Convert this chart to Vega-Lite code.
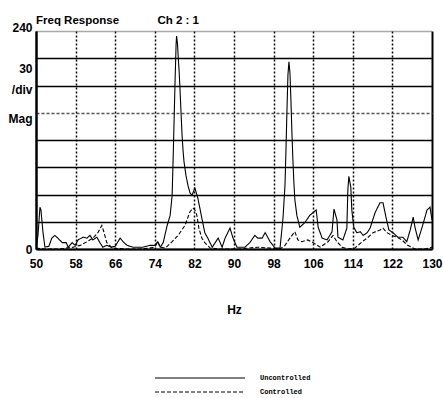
{
  "$schema": "https://vega.github.io/schema/vega-lite/v6.json",
  "width": 396,
  "height": 218,
  "autosize": "none",
  "padding": {"left": 36, "top": 31, "right": 11, "bottom": 149},
  "background": "white",
  "config": {"view": {"stroke": null}},
  "title": {
    "text": "Freq Response\u00a0\u00a0\u00a0\u00a0\u00a0\u00a0\u00a0\u00a0\u00a0\u00a0\u00a0\u00a0Ch 2 : 1",
    "anchor": "start",
    "frame": "group",
    "font": "Liberation Sans, Arial, sans-serif",
    "fontSize": 11.5,
    "fontWeight": "bold",
    "color": "black",
    "baseline": "alphabetic",
    "offset": -14
  },
  "data": {
    "values": [
      {"hz": 50.0, "mag": 1, "series": "Uncontrolled"},
      {"hz": 50.4, "mag": 15, "series": "Uncontrolled"},
      {"hz": 50.8, "mag": 46, "series": "Uncontrolled"},
      {"hz": 51.0, "mag": 43, "series": "Uncontrolled"},
      {"hz": 51.4, "mag": 19, "series": "Uncontrolled"},
      {"hz": 51.8, "mag": 2, "series": "Uncontrolled"},
      {"hz": 52.6, "mag": 3, "series": "Uncontrolled"},
      {"hz": 53.2, "mag": 12, "series": "Uncontrolled"},
      {"hz": 53.8, "mag": 15, "series": "Uncontrolled"},
      {"hz": 54.4, "mag": 12, "series": "Uncontrolled"},
      {"hz": 55.3, "mag": 7, "series": "Uncontrolled"},
      {"hz": 56.1, "mag": 7, "series": "Uncontrolled"},
      {"hz": 56.5, "mag": 2, "series": "Uncontrolled"},
      {"hz": 57.3, "mag": 7, "series": "Uncontrolled"},
      {"hz": 57.9, "mag": 4, "series": "Uncontrolled"},
      {"hz": 58.5, "mag": 10, "series": "Uncontrolled"},
      {"hz": 59.5, "mag": 13, "series": "Uncontrolled"},
      {"hz": 60.3, "mag": 12, "series": "Uncontrolled"},
      {"hz": 60.9, "mag": 15, "series": "Uncontrolled"},
      {"hz": 61.5, "mag": 10, "series": "Uncontrolled"},
      {"hz": 62.3, "mag": 13, "series": "Uncontrolled"},
      {"hz": 62.9, "mag": 7, "series": "Uncontrolled"},
      {"hz": 63.5, "mag": 2, "series": "Uncontrolled"},
      {"hz": 64.3, "mag": 4, "series": "Uncontrolled"},
      {"hz": 65.2, "mag": 2, "series": "Uncontrolled"},
      {"hz": 66.0, "mag": 3, "series": "Uncontrolled"},
      {"hz": 67.0, "mag": 12, "series": "Uncontrolled"},
      {"hz": 67.6, "mag": 8, "series": "Uncontrolled"},
      {"hz": 68.4, "mag": 4, "series": "Uncontrolled"},
      {"hz": 69.6, "mag": 2, "series": "Uncontrolled"},
      {"hz": 71.6, "mag": 2, "series": "Uncontrolled"},
      {"hz": 73.0, "mag": 4, "series": "Uncontrolled"},
      {"hz": 74.0, "mag": 4, "series": "Uncontrolled"},
      {"hz": 74.6, "mag": 8, "series": "Uncontrolled"},
      {"hz": 75.1, "mag": 2, "series": "Uncontrolled"},
      {"hz": 75.7, "mag": 7, "series": "Uncontrolled"},
      {"hz": 76.5, "mag": 26, "series": "Uncontrolled"},
      {"hz": 77.1, "mag": 37, "series": "Uncontrolled"},
      {"hz": 77.5, "mag": 59, "series": "Uncontrolled"},
      {"hz": 77.7, "mag": 98, "series": "Uncontrolled"},
      {"hz": 77.9, "mag": 142, "series": "Uncontrolled"},
      {"hz": 78.1, "mag": 186, "series": "Uncontrolled"},
      {"hz": 78.3, "mag": 225, "series": "Uncontrolled"},
      {"hz": 78.4, "mag": 234.5, "series": "Uncontrolled"},
      {"hz": 78.6, "mag": 225, "series": "Uncontrolled"},
      {"hz": 78.7, "mag": 214, "series": "Uncontrolled"},
      {"hz": 78.9, "mag": 197, "series": "Uncontrolled"},
      {"hz": 79.1, "mag": 175, "series": "Uncontrolled"},
      {"hz": 79.3, "mag": 150, "series": "Uncontrolled"},
      {"hz": 79.5, "mag": 126, "series": "Uncontrolled"},
      {"hz": 79.7, "mag": 109, "series": "Uncontrolled"},
      {"hz": 79.9, "mag": 96, "series": "Uncontrolled"},
      {"hz": 80.3, "mag": 81, "series": "Uncontrolled"},
      {"hz": 80.7, "mag": 70, "series": "Uncontrolled"},
      {"hz": 81.1, "mag": 62, "series": "Uncontrolled"},
      {"hz": 81.5, "mag": 59, "series": "Uncontrolled"},
      {"hz": 82.1, "mag": 67, "series": "Uncontrolled"},
      {"hz": 82.7, "mag": 56, "series": "Uncontrolled"},
      {"hz": 83.5, "mag": 34, "series": "Uncontrolled"},
      {"hz": 84.1, "mag": 18, "series": "Uncontrolled"},
      {"hz": 84.7, "mag": 12, "series": "Uncontrolled"},
      {"hz": 85.6, "mag": 2, "series": "Uncontrolled"},
      {"hz": 86.2, "mag": 7, "series": "Uncontrolled"},
      {"hz": 86.8, "mag": 12, "series": "Uncontrolled"},
      {"hz": 87.6, "mag": 2, "series": "Uncontrolled"},
      {"hz": 88.2, "mag": 12, "series": "Uncontrolled"},
      {"hz": 89.2, "mag": 23, "series": "Uncontrolled"},
      {"hz": 89.8, "mag": 12, "series": "Uncontrolled"},
      {"hz": 90.6, "mag": 2, "series": "Uncontrolled"},
      {"hz": 92.2, "mag": 2, "series": "Uncontrolled"},
      {"hz": 93.2, "mag": 7, "series": "Uncontrolled"},
      {"hz": 94.2, "mag": 15, "series": "Uncontrolled"},
      {"hz": 94.8, "mag": 12, "series": "Uncontrolled"},
      {"hz": 95.7, "mag": 12, "series": "Uncontrolled"},
      {"hz": 96.3, "mag": 18, "series": "Uncontrolled"},
      {"hz": 97.3, "mag": 8, "series": "Uncontrolled"},
      {"hz": 98.3, "mag": 1, "series": "Uncontrolled"},
      {"hz": 99.3, "mag": 1, "series": "Uncontrolled"},
      {"hz": 99.9, "mag": 34, "series": "Uncontrolled"},
      {"hz": 100.3, "mag": 70, "series": "Uncontrolled"},
      {"hz": 100.5, "mag": 109, "series": "Uncontrolled"},
      {"hz": 100.7, "mag": 153, "series": "Uncontrolled"},
      {"hz": 100.9, "mag": 192, "series": "Uncontrolled"},
      {"hz": 101.1, "mag": 206, "series": "Uncontrolled"},
      {"hz": 101.3, "mag": 194, "series": "Uncontrolled"},
      {"hz": 101.5, "mag": 164, "series": "Uncontrolled"},
      {"hz": 101.7, "mag": 128, "series": "Uncontrolled"},
      {"hz": 101.9, "mag": 98, "series": "Uncontrolled"},
      {"hz": 102.1, "mag": 73, "series": "Uncontrolled"},
      {"hz": 102.3, "mag": 54, "series": "Uncontrolled"},
      {"hz": 102.7, "mag": 37, "series": "Uncontrolled"},
      {"hz": 103.3, "mag": 24, "series": "Uncontrolled"},
      {"hz": 104.3, "mag": 29, "series": "Uncontrolled"},
      {"hz": 105.3, "mag": 37, "series": "Uncontrolled"},
      {"hz": 106.6, "mag": 43, "series": "Uncontrolled"},
      {"hz": 107.0, "mag": 24, "series": "Uncontrolled"},
      {"hz": 107.8, "mag": 12, "series": "Uncontrolled"},
      {"hz": 108.8, "mag": 10, "series": "Uncontrolled"},
      {"hz": 109.8, "mag": 19, "series": "Uncontrolled"},
      {"hz": 110.2, "mag": 44, "series": "Uncontrolled"},
      {"hz": 110.8, "mag": 32, "series": "Uncontrolled"},
      {"hz": 111.0, "mag": 13, "series": "Uncontrolled"},
      {"hz": 112.0, "mag": 10, "series": "Uncontrolled"},
      {"hz": 112.8, "mag": 23, "series": "Uncontrolled"},
      {"hz": 113.0, "mag": 65, "series": "Uncontrolled"},
      {"hz": 113.2, "mag": 80, "series": "Uncontrolled"},
      {"hz": 113.6, "mag": 68, "series": "Uncontrolled"},
      {"hz": 113.8, "mag": 43, "series": "Uncontrolled"},
      {"hz": 114.2, "mag": 24, "series": "Uncontrolled"},
      {"hz": 114.8, "mag": 18, "series": "Uncontrolled"},
      {"hz": 115.5, "mag": 19, "series": "Uncontrolled"},
      {"hz": 116.1, "mag": 15, "series": "Uncontrolled"},
      {"hz": 116.9, "mag": 18, "series": "Uncontrolled"},
      {"hz": 117.5, "mag": 23, "series": "Uncontrolled"},
      {"hz": 118.5, "mag": 40, "series": "Uncontrolled"},
      {"hz": 119.5, "mag": 51, "series": "Uncontrolled"},
      {"hz": 120.1, "mag": 51, "series": "Uncontrolled"},
      {"hz": 120.7, "mag": 35, "series": "Uncontrolled"},
      {"hz": 121.3, "mag": 21, "series": "Uncontrolled"},
      {"hz": 122.1, "mag": 18, "series": "Uncontrolled"},
      {"hz": 123.1, "mag": 13, "series": "Uncontrolled"},
      {"hz": 124.1, "mag": 13, "series": "Uncontrolled"},
      {"hz": 124.9, "mag": 8, "series": "Uncontrolled"},
      {"hz": 125.6, "mag": 21, "series": "Uncontrolled"},
      {"hz": 126.2, "mag": 35, "series": "Uncontrolled"},
      {"hz": 126.6, "mag": 23, "series": "Uncontrolled"},
      {"hz": 127.2, "mag": 10, "series": "Uncontrolled"},
      {"hz": 128.0, "mag": 24, "series": "Uncontrolled"},
      {"hz": 129.0, "mag": 43, "series": "Uncontrolled"},
      {"hz": 129.6, "mag": 46, "series": "Uncontrolled"},
      {"hz": 130.0, "mag": 32, "series": "Uncontrolled"},
      {"hz": 50.0, "mag": 1, "series": "Controlled"},
      {"hz": 51.8, "mag": 0, "series": "Controlled"},
      {"hz": 54.8, "mag": 0, "series": "Controlled"},
      {"hz": 57.5, "mag": 2, "series": "Controlled"},
      {"hz": 58.9, "mag": 4, "series": "Controlled"},
      {"hz": 60.3, "mag": 8, "series": "Controlled"},
      {"hz": 61.5, "mag": 12, "series": "Controlled"},
      {"hz": 62.5, "mag": 18, "series": "Controlled"},
      {"hz": 63.3, "mag": 26, "series": "Controlled"},
      {"hz": 63.7, "mag": 19, "series": "Controlled"},
      {"hz": 64.3, "mag": 7, "series": "Controlled"},
      {"hz": 65.4, "mag": 1, "series": "Controlled"},
      {"hz": 68.0, "mag": 0, "series": "Controlled"},
      {"hz": 71.0, "mag": 0, "series": "Controlled"},
      {"hz": 73.0, "mag": 1, "series": "Controlled"},
      {"hz": 74.0, "mag": 2, "series": "Controlled"},
      {"hz": 74.6, "mag": 8, "series": "Controlled"},
      {"hz": 75.1, "mag": 2, "series": "Controlled"},
      {"hz": 76.1, "mag": 1, "series": "Controlled"},
      {"hz": 77.5, "mag": 8, "series": "Controlled"},
      {"hz": 78.7, "mag": 15, "series": "Controlled"},
      {"hz": 80.1, "mag": 26, "series": "Controlled"},
      {"hz": 80.7, "mag": 35, "series": "Controlled"},
      {"hz": 81.1, "mag": 41, "series": "Controlled"},
      {"hz": 81.7, "mag": 45, "series": "Controlled"},
      {"hz": 82.1, "mag": 43, "series": "Controlled"},
      {"hz": 82.5, "mag": 37, "series": "Controlled"},
      {"hz": 82.9, "mag": 23, "series": "Controlled"},
      {"hz": 83.5, "mag": 12, "series": "Controlled"},
      {"hz": 84.1, "mag": 7, "series": "Controlled"},
      {"hz": 85.2, "mag": 1, "series": "Controlled"},
      {"hz": 87.2, "mag": 0, "series": "Controlled"},
      {"hz": 91.2, "mag": 0, "series": "Controlled"},
      {"hz": 94.8, "mag": 2, "series": "Controlled"},
      {"hz": 97.3, "mag": 1, "series": "Controlled"},
      {"hz": 99.3, "mag": 0, "series": "Controlled"},
      {"hz": 100.3, "mag": 4, "series": "Controlled"},
      {"hz": 101.3, "mag": 12, "series": "Controlled"},
      {"hz": 102.3, "mag": 19, "series": "Controlled"},
      {"hz": 102.9, "mag": 10, "series": "Controlled"},
      {"hz": 103.7, "mag": 8, "series": "Controlled"},
      {"hz": 104.9, "mag": 10, "series": "Controlled"},
      {"hz": 106.0, "mag": 7, "series": "Controlled"},
      {"hz": 107.4, "mag": 2, "series": "Controlled"},
      {"hz": 109.0, "mag": 8, "series": "Controlled"},
      {"hz": 110.0, "mag": 15, "series": "Controlled"},
      {"hz": 110.8, "mag": 8, "series": "Controlled"},
      {"hz": 111.8, "mag": 2, "series": "Controlled"},
      {"hz": 113.0, "mag": 0, "series": "Controlled"},
      {"hz": 114.4, "mag": 1, "series": "Controlled"},
      {"hz": 115.9, "mag": 8, "series": "Controlled"},
      {"hz": 116.9, "mag": 12, "series": "Controlled"},
      {"hz": 118.1, "mag": 18, "series": "Controlled"},
      {"hz": 119.5, "mag": 21, "series": "Controlled"},
      {"hz": 120.1, "mag": 23, "series": "Controlled"},
      {"hz": 120.9, "mag": 18, "series": "Controlled"},
      {"hz": 121.9, "mag": 15, "series": "Controlled"},
      {"hz": 122.9, "mag": 13, "series": "Controlled"},
      {"hz": 123.9, "mag": 10, "series": "Controlled"},
      {"hz": 125.1, "mag": 4, "series": "Controlled"},
      {"hz": 126.6, "mag": 0, "series": "Controlled"},
      {"hz": 128.6, "mag": 0, "series": "Controlled"},
      {"hz": 130.0, "mag": 2, "series": "Controlled"}
    ]
  },
  "mark": {"type": "line", "color": "black", "strokeWidth": 1.1, "clip": true},
  "encoding": {
    "x": {
      "field": "hz",
      "type": "quantitative",
      "scale": {"domain": [50, 130], "nice": false, "zero": false},
      "axis": {
        "values": [50, 58, 66, 74, 82, 90, 98, 106, 114, 122, 130],
        "title": "Hz",
        "titleFont": "Liberation Sans, Arial, sans-serif",
        "titleFontSize": 12,
        "titleFontWeight": "bold",
        "titleColor": "black",
        "titlePadding": 35,
        "labelFont": "Liberation Sans, Arial, sans-serif",
        "labelFontSize": 12,
        "labelFontWeight": "bold",
        "labelColor": "black",
        "labelPadding": 9,
        "labelFlush": false,
        "labelOverlap": false,
        "ticks": false,
        "domain": true,
        "domainColor": "black",
        "domainWidth": 2,
        "grid": true,
        "gridColor": "black",
        "gridOpacity": 1,
        "gridWidth": {"condition": {"test": "datum.value == 50 || datum.value == 130", "value": 2}, "value": 1.5},
        "gridDash": {"condition": {"test": "datum.value == 50 || datum.value == 130", "value": []}, "value": [2, 2]}
      }
    },
    "y": {
      "field": "mag",
      "type": "quantitative",
      "scale": {"domain": [0, 240], "nice": false},
      "axis": {
        "values": [0, 30, 60, 90, 120, 150, 180, 210, 240],
        "title": null,
        "labelExpr": "datum.value == 240 ? '240' : datum.value == 210 ? '30' : datum.value == 180 ? '/div' : datum.value == 150 ? 'Mag' : datum.value == 0 ? '0' : ''",
        "labelFont": "Liberation Sans, Arial, sans-serif",
        "labelFontSize": 12,
        "labelFontWeight": "bold",
        "labelColor": "black",
        "labelPadding": 4,
        "labelOffset": {"condition": [
          {"test": "datum.value == 240", "value": -4},
          {"test": "datum.value == 210", "value": 10},
          {"test": "datum.value == 180", "value": 4},
          {"test": "datum.value == 150", "value": 6}
        ], "value": 0},
        "ticks": false,
        "domain": true,
        "domainColor": "black",
        "domainWidth": 2,
        "grid": true,
        "gridColor": {"condition": {"test": "datum.value == 150 || datum.value == 240", "value": "#555555"}, "value": "black"},
        "gridOpacity": 1,
        "gridWidth": 1.5,
        "gridDash": {"condition": [
          {"test": "datum.value == 150", "value": [3, 2]},
          {"test": "datum.value == 240", "value": [1, 1]}
        ], "value": []}
      }
    },
    "strokeDash": {
      "field": "series",
      "type": "nominal",
      "scale": {"domain": ["Uncontrolled", "Controlled"], "range": [[1, 0], [4, 2]]},
      "legend": {
        "orient": "none",
        "legendX": 159,
        "legendY": 342,
        "padding": 0,
        "title": null,
        "symbolType": "M-10,0H10",
        "symbolSize": 81,
        "symbolStrokeWidth": 1,
        "symbolStrokeColor": "black",
        "labelFont": "Liberation Mono, DejaVu Sans Mono, monospace",
        "labelFontSize": 7,
        "labelFontWeight": "bold",
        "labelColor": "black",
        "labelOffset": 55,
        "rowPadding": 6
      }
    }
  }
}
